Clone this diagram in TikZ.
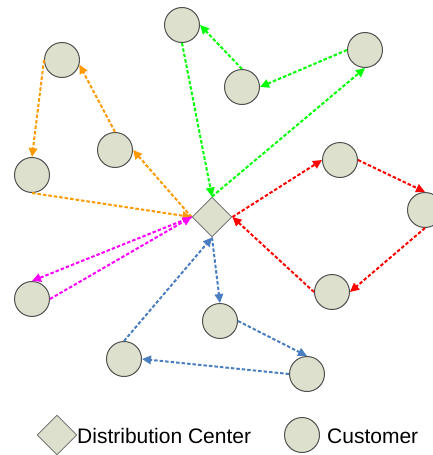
\documentclass[tikz,border=0pt]{standalone}
\usepackage{fontspec}
\setmainfont{Liberation Sans}
\usetikzlibrary{shapes.geometric,arrows.meta}
\definecolor{cfill}{RGB}{221,224,204}
\definecolor{cedge}{RGB}{80,80,80}
\definecolor{dedge}{RGB}{120,120,120}
\definecolor{corange}{RGB}{255,153,0}
\definecolor{cgreen}{RGB}{0,255,0}
\definecolor{cred}{RGB}{255,0,0}
\definecolor{cmag}{RGB}{255,0,255}
\definecolor{cblue}{RGB}{74,126,193}
\tikzset{
  cust/.style={circle,draw=cedge,fill=cfill,line width=1pt,minimum size=35pt,inner sep=0pt},
  dc/.style={diamond,draw=dedge,fill=cfill,line width=0.9pt,minimum width=40pt,minimum height=40pt,inner sep=0pt,aspect=1},
  route/.style={line width=2pt,dash pattern=on 3.5pt off 2pt,-{Triangle[length=9pt,width=8.5pt]}},
  lbl/.style={font=\fontsize{21pt}{24pt}\selectfont,inner sep=0pt,anchor=base west}
}
\begin{document}
\begin{tikzpicture}[x=1pt,y=-1pt]
\useasboundingbox (0,0) rectangle (433,455);
\begin{scope}
\clip (0,0) rectangle (433,455);
\node[dc] (DC) at (212,217) {};
\node[cust] (A) at (182,25) {};
\node[cust] (B) at (242,87) {};
\node[cust] (C) at (365,50) {};
\node[cust] (D) at (62,60) {};
\node[cust] (E) at (115,150) {};
\node[cust] (F) at (32,175) {};
\node[cust] (G) at (340,160) {};
\node[cust] (H) at (425,210) {};
\node[cust] (I) at (332,292) {};
\node[cust] (J) at (220,321) {};
\node[cust] (K) at (307,374) {};
\node[cust] (L) at (124,359) {};
\node[cust] (M) at (32,299) {};
% green
\draw[route,cgreen] (A.south) -- (DC.north);
\draw[route,cgreen] (DC.north) -- (C.south);
\draw[route,cgreen] (C.west) -- (B.east);
\draw[route,cgreen] (B.north) -- (A.east);
% orange
\draw[route,corange] (DC.west) -- (E.east);
\draw[route,corange] (E.north) -- (D.-15);
\draw[route,corange] (D.west) -- (F.north);
\draw[route,corange] (F.south) -- (DC.west);
% magenta
\draw[route,cmag] (DC.west) -- (M.north);
\draw[route,cmag] (M.east) -- (DC.west);
% red
\draw[route,cred] (DC.east) -- (G.west);
\draw[route,cred] (G.east) -- (H.north);
\draw[route,cred] (H.south) -- (I.east);
\draw[route,cred] (I.west) -- (DC.east);
% blue
\draw[route,cblue] (DC.south) -- (J.north);
\draw[route,cblue] (J.east) -- (K.north);
\draw[route,cblue] (K.west) -- (L.east);
\draw[route,cblue] (L.north) -- (DC.south);
% legend
\node[dc] (LD) at (57,435) {};
\node[lbl] (LDT) at (77,443) {Distribution Center};
\node[cust] (LC) at (302,435) {};
\node[lbl] (LCT) at (327,443) {Customer};
\end{scope}
\end{tikzpicture}
\end{document}
